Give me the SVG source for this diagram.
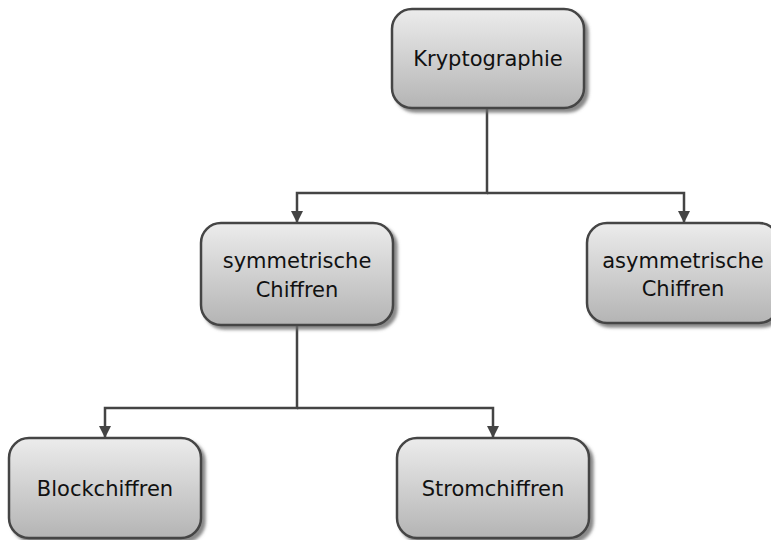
<svg xmlns="http://www.w3.org/2000/svg" width="771" height="540" viewBox="0 0 771 540">
  <defs>
    <linearGradient id="boxFill" x1="0" y1="0" x2="0" y2="1">
      <stop offset="0" stop-color="#ececec"/>
      <stop offset="1" stop-color="#b4b4b4"/>
    </linearGradient>
    <filter id="shadow" x="-10%" y="-10%" width="130%" height="130%">
      <feDropShadow dx="3.5" dy="3.5" stdDeviation="1.5" flood-color="#6a6a6a" flood-opacity="0.8"/>
    </filter>
    <marker id="arrow" viewBox="0 0 12 12" refX="12" refY="6" markerWidth="12" markerHeight="12" markerUnits="userSpaceOnUse" orient="auto">
      <path d="M0,0 L12,6 L0,12 Z" fill="#444444"/>
    </marker>
  </defs>
  <style>
    .box { fill: url(#boxFill); stroke: #444444; stroke-width: 2.5; filter: url(#shadow); }
    .label { font-family: "DejaVu Sans", sans-serif; font-size: 21px; fill: #111111; text-anchor: middle; }
    .edge { fill: none; stroke: #444444; stroke-width: 2.5; }
  </style>
  <rect width="771" height="540" fill="#ffffff"/>

  <g id="connectors">
    <path class="edge" d="M487,108 V193 H297 V223" marker-end="url(#arrow)"/>
    <path class="edge" d="M487,193 H684 V223" marker-end="url(#arrow)"/>
    <path class="edge" d="M297,325 V408 H105 V438" marker-end="url(#arrow)"/>
    <path class="edge" d="M297,408 H493 V438" marker-end="url(#arrow)"/>
  </g>

  <g id="kryptographie">
    <rect class="box" x="392" y="9" width="192" height="99" rx="20" ry="20"/>
    <text class="label" x="488" y="66">Kryptographie</text>
  </g>

  <g id="symmetrische">
    <rect class="box" x="201" y="223" width="192" height="102" rx="20" ry="20"/>
    <text class="label" x="297" y="268">symmetrische</text>
    <text class="label" x="297" y="297">Chiffren</text>
  </g>

  <g id="asymmetrische">
    <rect class="box" x="587" y="223" width="192" height="100" rx="20" ry="20"/>
    <text class="label" x="683" y="268">asymmetrische</text>
    <text class="label" x="683" y="296">Chiffren</text>
  </g>

  <g id="blockchiffren">
    <rect class="box" x="9" y="438" width="192" height="100" rx="20" ry="20"/>
    <text class="label" x="105" y="496">Blockchiffren</text>
  </g>

  <g id="stromchiffren">
    <rect class="box" x="397" y="438" width="192" height="100" rx="20" ry="20"/>
    <text class="label" x="493" y="496">Stromchiffren</text>
  </g>
</svg>
